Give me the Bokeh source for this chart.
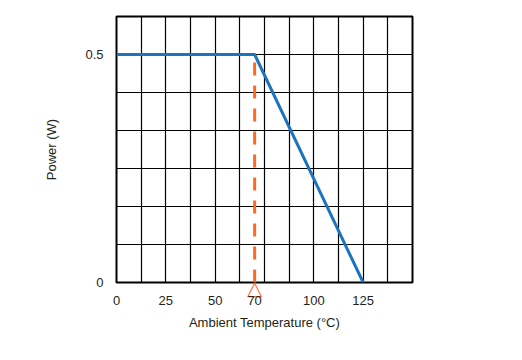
from bokeh.plotting import figure
from bokeh.models import FixedTicker, Range1d, LinearAxis
from bokeh.embed import file_html
from bokeh.resources import INLINE

# data
temperature = [0, 70, 125]
power = [0.5, 0.5, 0]
derating_temp = 70
derating_power = 0.5
x_tick_values = [0, 25, 50, 70, 100, 125]
y_tick_values = [0, 0.5]
y_tick_labels = {0: "0", 0.5: "0.5"}
x_grid_values = [i * 12.5 for i in range(13)]
y_grid_values = [i * 0.5 / 6 for i in range(8)]
x_max = 150
y_max = 0.5 * 7 / 6

FONT = "Liberation Sans"
TEXT = "#231F20"
ORANGE = "#FF6A1F"

p = figure(width=510, height=344, output_backend="svg", toolbar_location=None,
           x_range=Range1d(0, x_max), y_range=Range1d(0, y_max),
           min_border_left=116, min_border_right=98, min_border_top=16, min_border_bottom=62)

p.outline_line_color = "black"
p.outline_line_width = 2
p.background_fill_color = "white"

p.xgrid.ticker = FixedTicker(ticks=x_grid_values)
p.ygrid.ticker = FixedTicker(ticks=y_grid_values)
for g in (p.xgrid, p.ygrid):
    g.grid_line_color = "black"
    g.grid_line_width = 1.2
    g.grid_line_alpha = 1

p.xaxis.ticker = FixedTicker(ticks=x_tick_values)
p.yaxis.ticker = FixedTicker(ticks=y_tick_values)
p.yaxis.major_label_overrides = y_tick_labels
for ax in (p.xaxis, p.yaxis):
    ax.axis_line_color = None
    ax.major_tick_line_color = None
    ax.minor_tick_line_color = None
    ax.major_tick_out = 0
    ax.major_tick_in = 0
    ax.major_label_text_font = FONT
    ax.major_label_text_font_size = "13px"
    ax.major_label_text_color = TEXT
    ax.axis_label_text_font = FONT
    ax.axis_label_text_font_size = "13px"
    ax.axis_label_text_font_style = "normal"
    ax.axis_label_text_color = TEXT

p.xaxis.axis_label = "Ambient Temperature (°C)"
p.yaxis.axis_label = "Power (W)"
p.yaxis.major_label_standoff = 13
p.yaxis.axis_label_standoff = 23

# triangle marker just below the frame, as an extra axis tick label at the derating point
tri_axis = LinearAxis(ticker=FixedTicker(ticks=[derating_temp]),
                      major_label_overrides={derating_temp: "\u25b3"},
                      axis_line_color=None, major_tick_line_color=None,
                      minor_tick_line_color=None, major_tick_out=0, major_tick_in=0,
                      major_label_standoff=-7,
                      major_label_text_font="DejaVu Sans",
                      major_label_text_font_style="bold",
                      major_label_text_font_size="20px",
                      major_label_text_color=ORANGE)
p.below = [tri_axis] + list(p.below)

p.xaxis[1].major_label_standoff = -7
p.xaxis[1].axis_label_standoff = 7

# dashed marker line
p.line(x=[derating_temp, derating_temp], y=[0, derating_power],
       line_color=ORANGE, line_width=3, line_dash="13 10")

# derating curve
p.line(x=temperature, y=power, line_color="#1C75BC", line_width=3)

open("out.html", "w").write(file_html(p, INLINE))
